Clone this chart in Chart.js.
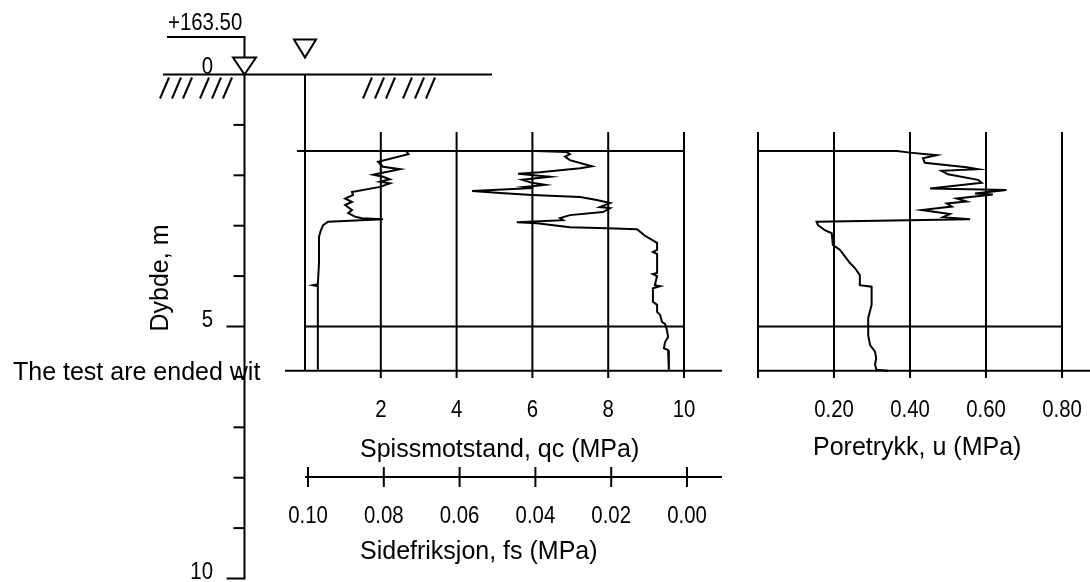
<!DOCTYPE html>
<html><head><meta charset="utf-8">
<script src="https://cdn.jsdelivr.net/npm/chart.js@4.4.1/dist/chart.umd.min.js"></script>
<style>html,body{margin:0;padding:0;background:#fff;overflow:hidden}canvas{display:block}</style>
</head><body>
<canvas id="c" width="1090" height="582"></canvas>
<script>
// ---- data ----
const qcDepth = [1.52,1.54,1.58,1.63,1.70,1.82,1.86,1.94,1.97,2.03,2.09,2.15,2.19,2.23,2.25,2.31,2.35,2.39,2.43,2.49,2.55,2.63,2.65,2.73,2.79,2.85,2.89,2.93,2.95,3.03,3.05,3.07,3.15,3.20,3.34,3.48,3.52,3.56,3.94,3.96,4.00,4.18,4.20,4.24,4.51,4.57,4.71,4.77,4.91,4.95,5.07,5.21,5.31,5.43,5.47,5.86];
const qcValues = [6.10,6.91,6.99,6.86,6.99,7.57,7.26,6.20,5.62,6.46,5.73,5.99,6.33,5.80,6.02,4.41,5.15,5.99,7.26,7.70,8.05,7.78,8.05,7.86,6.99,6.73,6.81,5.59,6.12,6.99,7.97,8.76,8.89,8.97,9.29,9.29,9.18,9.29,9.29,9.18,9.29,9.23,9.37,9.18,9.18,9.29,9.29,9.37,9.42,9.50,9.55,9.58,9.50,9.47,9.58,9.60];

const fsDepth = [1.53,1.58,1.73,1.83,1.88,1.96,1.99,2.03,2.08,2.13,2.16,2.23,2.33,2.39,2.46,2.53,2.59,2.69,2.75,2.82,2.85,2.87,2.92,2.99,3.09,3.22,3.28,3.74,4.16,4.18,4.20,4.22,5.01,5.86];
const fsValues = [0.0740,0.0735,0.0815,0.0802,0.0757,0.0810,0.0828,0.0802,0.0784,0.0810,0.0784,0.0810,0.0884,0.0881,0.0902,0.0884,0.0902,0.0884,0.0894,0.0876,0.0858,0.0802,0.0947,0.0960,0.0966,0.0971,0.0971,0.0971,0.0974,0.0987,0.0974,0.0974,0.0974,0.0974];

const uDepth = [1.52,1.52,1.55,1.60,1.66,1.75,1.84,1.88,1.91,1.98,2.09,2.15,2.26,2.29,2.36,2.38,2.46,2.52,2.56,2.62,2.69,2.77,2.83,2.87,2.92,2.99,3.09,3.15,3.38,3.48,3.74,3.84,3.98,4.18,4.21,4.57,4.83,5.17,5.37,5.50,5.63,5.76,5.86,5.88];
const uValues = [0.000,0.366,0.400,0.470,0.434,0.439,0.549,0.579,0.483,0.500,0.579,0.589,0.453,0.654,0.571,0.618,0.523,0.549,0.497,0.510,0.431,0.505,0.487,0.558,0.154,0.158,0.176,0.194,0.197,0.216,0.242,0.255,0.268,0.268,0.299,0.299,0.290,0.290,0.295,0.308,0.311,0.308,0.312,0.342];

const depthTicks = [1,2,3,4,5,6,7,8,9,10];
const depthLabelValues = [0,5,10];
const depthLabels = ['0','5','10'];
const qcTicks = [2,4,6,8,10];
const qcTickLabels = ['2','4','6','8','10'];
const fsTicks = [0.10,0.08,0.06,0.04,0.02,0.00];
const fsTickLabels = ['0.10','0.08','0.06','0.04','0.02','0.00'];
const uTicks = [0,0.2,0.4,0.6,0.8];
const uTickLabels = ['','0.20','0.40','0.60','0.80'];
const startDepth = 1.52;
const endDepth = 5.88;
const refDepth = 5;
const elevationText = '+163.50';
const depthTitle = 'Dybde, m';
const qcTitle = 'Spissmotstand, qc (MPa)';
const fsTitle = 'Sidefriksjon, fs (MPa)';
const uTitle = 'Poretrykk, u (MPa)';
const noteText = 'The test are ended wit';

// ---- drawing ----
const LBL = '25px "Liberation Sans", Arial, sans-serif';
const NUM = '24px "Liberation Sans", Arial, sans-serif';
const NUM_SX = 0.85;

const framePlugin = {
  id: 'cptFrame',
  beforeDatasetsDraw(chart) {
    const ctx = chart.ctx;
    const s = chart.scales;
    const Y = v => s.y.getPixelForValue(v);
    const XQ = v => s.xq.getPixelForValue(v);
    const XF = v => s.xf.getPixelForValue(v);
    const XU = v => s.xu.getPixelForValue(v);
    ctx.save();
    ctx.strokeStyle = '#000';
    ctx.fillStyle = '#000';
    ctx.lineWidth = 2;
    ctx.lineCap = 'butt';
    const line = (x1, y1, x2, y2) => { ctx.beginPath(); ctx.moveTo(x1, y1); ctx.lineTo(x2, y2); ctx.stroke(); };
    const text = (t, x, y, align, font, sx) => {
      ctx.save();
      ctx.translate(x, y);
      ctx.scale(sx || 1, 1);
      ctx.font = font; ctx.textAlign = align; ctx.textBaseline = 'alphabetic';
      ctx.fillText(t, 0, 0);
      ctx.restore();
    };
    const tri = (cx, tipY, w, h) => { ctx.beginPath(); ctx.moveTo(cx - w / 2, tipY - h); ctx.lineTo(cx + w / 2, tipY - h); ctx.lineTo(cx, tipY); ctx.closePath(); ctx.stroke(); };

    const y0 = Y(0), yS = Y(startDepth), yE = Y(endDepth), y5 = Y(refDepth);
    const axX = 244.5;
    const gridTop = 132, gridBot = 378;

    // elevation leader + triangle
    text(elevationText, 168, 30, 'left', NUM, NUM_SX);
    line(167, 37, axX + 1, 37);
    line(axX, 37, axX, y0 - 17);
    tri(axX, y0, 23, 17);
    // second triangle (qc-panel reference)
    tri(XQ(0), y0 - 17, 22, 18);

    // ground line and hatches
    line(163, y0, 492, y0);
    const hatch = [160, 172, 183, 200, 212, 223, 363, 375, 386, 403, 415, 426];
    hatch.forEach(bx => line(bx, y0 + 24, bx + 9, y0 + 3));

    // depth axis
    line(axX, y0, axX, Y(10) + 1);
    depthTicks.forEach(d => {
      const major = d % 5 === 0;
      line(axX - (major ? 18 : 11), Y(d), axX, Y(d));
    });
    depthLabelValues.forEach((d, i) => text(depthLabels[i], 213, Y(d) - (d === 0 ? 1 : 0), 'right', NUM, NUM_SX));
    ctx.save();
    ctx.translate(168, 278);
    ctx.rotate(-Math.PI / 2);
    text(depthTitle, 0, 0, 'center', LBL);
    ctx.restore();

    text(noteText, 13, 380, 'left', LBL);

    // qc / fs panel
    line(XQ(0), y0, XQ(0), yE);
    qcTicks.forEach(v => line(XQ(v), gridTop, XQ(v), gridBot));
    line(297, yS, XQ(10), yS);
    line(XQ(0), y5, XQ(10), y5);
    line(285, yE, 722, yE);
    qcTicks.forEach((v, i) => text(qcTickLabels[i], XQ(v), 417, 'center', NUM, NUM_SX));
    text(qcTitle, 360, 457, 'left', LBL);

    const fsAxY = 477;
    line(XQ(0), fsAxY, 722, fsAxY);
    fsTicks.forEach((v, i) => {
      line(XF(v), fsAxY - 10, XF(v), fsAxY + 10);
      text(fsTickLabels[i], XF(v), 523, 'center', NUM, NUM_SX);
    });
    text(fsTitle, 360, 559, 'left', LBL);

    // u panel
    uTicks.forEach(v => line(XU(v), gridTop, XU(v), gridBot));
    line(XU(0), y5, XU(0.8), y5);
    line(XU(0), yE, 1090, yE);
    uTicks.forEach((v, i) => { if (uTickLabels[i]) text(uTickLabels[i], XU(v), 417, 'center', NUM, NUM_SX); });
    text(uTitle, 813, 455, 'left', LBL);

    ctx.restore();
  }
};

const pts = (ds, vs) => ds.map((d, i) => ({ x: vs[i], y: d }));
const traceStyle = { showLine: true, pointRadius: 0, borderColor: '#000', backgroundColor: '#000', borderWidth: 2, tension: 0, fill: false, yAxisID: 'y' };

new Chart(document.getElementById('c'), {
  type: 'scatter',
  data: {
    datasets: [
      Object.assign({ label: 'qc', data: pts(qcDepth, qcValues), xAxisID: 'xq' }, traceStyle),
      Object.assign({ label: 'fs', data: pts(fsDepth, fsValues), xAxisID: 'xf' }, traceStyle),
      Object.assign({ label: 'u', data: pts(uDepth, uValues), xAxisID: 'xu' }, traceStyle)
    ]
  },
  options: {
    responsive: false,
    devicePixelRatio: 1,
    animation: false,
    layout: { padding: 0 },
    plugins: { legend: { display: false }, tooltip: { enabled: false } },
    scales: {
      x: { display: false, type: 'linear' },
      y: { type: 'linear', display: false, reverse: true, min: -1.4782, max: 10.0694 },
      xq: { type: 'linear', axis: 'x', display: false, min: -8.0475, max: 20.7124 },
      xf: { type: 'linear', axis: 'x', display: false, reverse: true, min: -0.106332, max: 0.181266 },
      xu: { type: 'linear', axis: 'x', display: false, min: -1.994737, max: 0.873684 }
    }
  },
  plugins: [framePlugin]
});
</script>
</body></html>
